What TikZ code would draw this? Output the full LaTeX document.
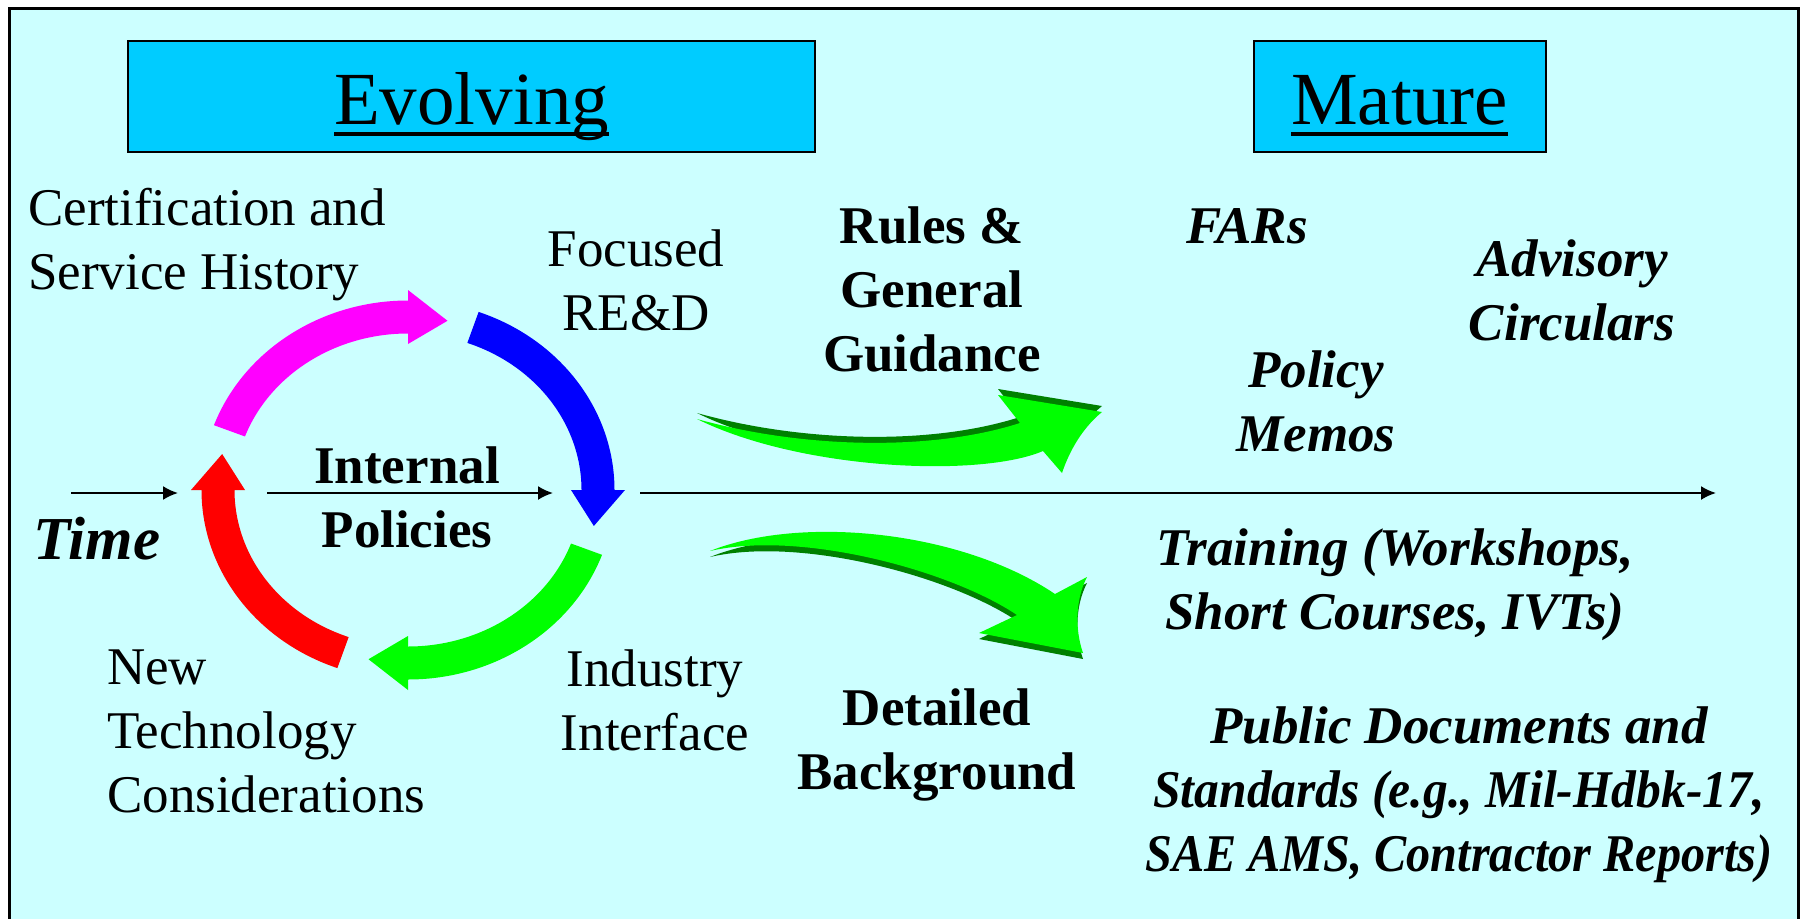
\documentclass[tikz,border=0pt]{standalone}
\usepackage{fontspec}
\setmainfont{Liberation Serif}
\usetikzlibrary{arrows.meta,calc}
\definecolor{paper}{HTML}{CCFFFF}
\definecolor{titlecyan}{HTML}{00CCFF}
\definecolor{leaf}{HTML}{00FF00}
\definecolor{leafshade}{HTML}{008000}
\definecolor{cyclemagenta}{HTML}{FF00FF}
\definecolor{cycleblue}{HTML}{0000FF}
\definecolor{cyclered}{HTML}{FF0000}
\tikzset{
titlebox/.style = {draw, fill=titlecyan, rectangle, line width=2pt, inner sep=0pt, text height=60, text depth=4, font=\fontsize{75}{90}\selectfont},
plaintext/.style = {align=center, inner sep=0pt, font=\fontsize{53}{64}\selectfont},
boldtext/.style = {plaintext, font=\fontsize{53}{64}\selectfont\bfseries},
sourcetext/.style = {plaintext, font=\fontsize{53}{64}\selectfont\bfseries\itshape},
timeline/.style = {line width=2pt, -{Latex[length=15pt,width=14pt]}}
}
% heading word with a heavy rule under it
\newcommand{\titleword}[1]{\vtop{\hbox{\raisebox{0pt}[\height][0pt]{#1}}\kern8pt\hrule height 4pt}}
% one coloured quarter of the cycle: colour, angle where the head starts
\newcommand{\cyclearrow}[2]{%
  \fill[#1] ($(hub)+(#2+70:206.5pt and 189.5pt)$)
    arc[start angle=#2+70, end angle=#2, x radius=206.5pt, y radius=189.5pt]
    -- ($(hub)+(#2:217pt and 200pt)$) -- ($(hub)+(#2-12:190pt and 173pt)$)
    -- ($(hub)+(#2:163pt and 146pt)$) -- ($(hub)+(#2:173.5pt and 156.5pt)$)
    arc[start angle=#2, end angle=#2+70, x radius=173.5pt, y radius=156.5pt] -- cycle;}

\begin{document}
\begin{tikzpicture}[x=1pt,y=1pt]
    \useasboundingbox (0,0) rectangle (1806,-918);
    \clip (0,0) rectangle (1806,-918);
    \fill[white] (0,0) rectangle (1806,-918);
    \draw[line width=3pt, fill=paper] (9.5,-8.5) rectangle (1798.5,-940);

    \node[titlebox, minimum width=687, minimum height=111] (evolving) at (471.5,-96) {\titleword{Evolving}};
    \node[titlebox, minimum width=292, minimum height=111] (mature) at (1399.5,-96) {\titleword{Mature}};

    % the cycle
    \coordinate (hub) at (408,-490);
    \cyclearrow{cyclemagenta}{90}
    \cyclearrow{cycleblue}{0}
    \cyclearrow{leaf}{-90}
    \cyclearrow{cyclered}{180}

    % the two swooshes, shade first
    \foreach \dy/\tone in {6/leafshade,0/leaf}
      \fill[\tone, yshift=\dy] (697,-419) .. controls (800,-448) and (930,-452) .. (1020,-423) -- (998,-395) -- (1102,-412)
        .. controls (1080,-430) and (1068,-455) .. (1062,-473) -- (1043,-451) .. controls (980,-478) and (800,-470) .. (697,-419) -- cycle;
    \foreach \dy/\tone in {-6/leafshade,0/leaf}
      \fill[\tone, yshift=\dy] (710,-551) .. controls (800,-515) and (960,-530) .. (1055,-594) -- (1087,-577)
        .. controls (1075,-600) and (1075,-630) .. (1083,-653) -- (979,-633) -- (1017,-615) .. controls (950,-570) and (800,-530) .. (710,-551) -- cycle;

    % time axis
    \coordinate (t0) at (71,-493);
    \coordinate (t1) at (178,-493);
    \coordinate (t2) at (267,-493);
    \coordinate (t3) at (553,-493);
    \coordinate (t4) at (640,-493);
    \coordinate (t5) at (1716,-493);
    \foreach \a/\b in {t0/t1,t2/t3,t4/t5}
      \draw[timeline] (\a) -- (\b);

    \node[plaintext, align=left, anchor=west] (cert) at (28,-245) {Certification and\\Service History};
    \node[plaintext] (focused) at (636,-280) {Focused\\RE\&D};
    \node[plaintext] (industry) at (655,-700) {Industry\\Interface};
    \node[plaintext, align=left, anchor=west] (newtech) at (107,-731) {New\\Technology\\Considerations};
    \node[boldtext] (internal) at (407,-497) {Internal\\Policies};
    \node[sourcetext, font=\fontsize{61}{73}\selectfont\bfseries\itshape] (time) at (97,-539) {Time};
    \node[boldtext] (rules) at (932,-289) {Rules \&\\General\\Guidance};
    \node[boldtext] (detailed) at (937,-745) {Detailed\\Background};
    \node[sourcetext] (fars) at (1247,-226) {FARs};
    \node[sourcetext] (advisory) at (1572,-290) {Advisory\\Circulars};
    \node[sourcetext] (policy) at (1316,-401) {Policy\\Memos};
    \node[sourcetext] (training) at (1395,-585) {Training (Workshops,\\Short Courses, IVTs)};
    \node[sourcetext] (public) at (1459,-795) {Public Documents and\\\scalebox{0.935}[1]{Standards (e.g., Mil-Hdbk-17,}\\\scalebox{0.91}[1]{SAE AMS, Contractor Reports)}};
\end{tikzpicture}
\end{document}
